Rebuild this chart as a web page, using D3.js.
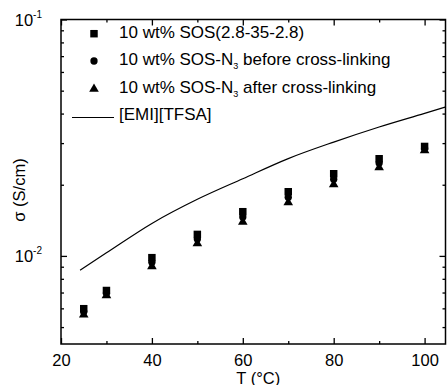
<!DOCTYPE html>
<html>
<head>
<meta charset="utf-8">
<script src="https://cdn.jsdelivr.net/npm/d3@7"></script>
<style>
  body { margin: 0; background: #fff; }
  text { font-family: "Liberation Sans", Arial, sans-serif; fill: #000; }
</style>
</head>
<body>
<div class="chart"></div>
<script>
// data
var temps = [25, 30, 40, 50, 60, 70, 80, 90, 100];
var sosPlain  = [0.00598, 0.00714, 0.00983, 0.01233, 0.01538, 0.01868, 0.02226, 0.02576, 0.02904];
var sosBefore = [0.00581, 0.00697, 0.00940, 0.01180, 0.01460, 0.01770, 0.02110, 0.02470, 0.02850];
var sosAfter  = [0.00564, 0.00681, 0.00903, 0.01129, 0.01390, 0.01683, 0.02006, 0.02367, 0.02793];

var ilTemps = [24.2, 30, 40, 50, 60, 70, 80, 90, 100, 104.5];
var ilSigma = [0.0087, 0.0103, 0.01372, 0.01735, 0.0212, 0.0258, 0.0303, 0.0351, 0.0401, 0.0426];

var xMajor = [20, 40, 60, 80, 100];
var xMinor = [30, 50, 70, 90];
var yMajor = [0.01, 0.1];
var yMajorExp = ["-2", "-1"];
var yMinor = [0.005, 0.006, 0.007, 0.008, 0.009, 0.02, 0.03, 0.04, 0.05, 0.06, 0.07, 0.08, 0.09];

var legendItems = [
  { sym: "square",   pre: "10 wt% SOS(2.8-35-2.8)", sub: "", post: "" },
  { sym: "circle",   pre: "10 wt% SOS-N", sub: "3", post: " before cross-linking" },
  { sym: "triangle", pre: "10 wt% SOS-N", sub: "3", post: " after cross-linking" },
  { sym: "line",     pre: "[EMI][TFSA]", sub: "", post: "" }
];

// Set up chart
var svgWidth = 447, svgHeight = 385;
var plotLeft = 61, plotRight = 445.5, plotTop = 19.5, plotBottom = 344;

var svg = d3.select(".chart").append("svg")
  .attr("width", svgWidth)
  .attr("height", svgHeight);

var x = d3.scaleLinear().domain([20, 104.6]).range([plotLeft, plotRight]);
var y = d3.scaleLog().domain([0.00424, 0.1]).range([plotBottom, plotTop]);

// axes (ticks pointing inward)
var axisStyle = function (g) {
  g.select(".domain").remove();
  g.selectAll("line").attr("stroke", "#000").attr("stroke-width", 1.3);
  g.selectAll("text").attr("font-size", 16.5).attr("font-family", "Liberation Sans, Arial, sans-serif");
};

svg.append("g")
  .attr("transform", `translate(0, ${plotBottom})`)
  .call(d3.axisBottom(x).tickValues(xMajor).tickSize(-6).tickPadding(10).tickSizeOuter(0))
  .call(axisStyle);
svg.append("g")
  .attr("transform", `translate(0, ${plotBottom})`)
  .call(d3.axisBottom(x).tickValues(xMinor).tickSize(-3).tickFormat("").tickSizeOuter(0))
  .call(axisStyle);
svg.append("g")
  .attr("transform", `translate(0, ${plotTop})`)
  .call(d3.axisTop(x).tickValues(xMajor).tickSize(-6).tickFormat("").tickSizeOuter(0))
  .call(axisStyle);
svg.append("g")
  .attr("transform", `translate(0, ${plotTop})`)
  .call(d3.axisTop(x).tickValues(xMinor).tickSize(-3).tickFormat("").tickSizeOuter(0))
  .call(axisStyle);

var yAxisL = svg.append("g")
  .attr("transform", `translate(${plotLeft}, 0)`)
  .call(d3.axisLeft(y).tickValues(yMajor).tickSize(-6).tickFormat("").tickSizeOuter(0))
  .call(axisStyle);
svg.append("g")
  .attr("transform", `translate(${plotLeft}, 0)`)
  .call(d3.axisLeft(y).tickValues(yMinor).tickSize(-3).tickFormat("").tickSizeOuter(0))
  .call(axisStyle);
svg.append("g")
  .attr("transform", `translate(${plotRight}, 0)`)
  .call(d3.axisRight(y).tickValues(yMajor).tickSize(-6).tickFormat("").tickSizeOuter(0))
  .call(axisStyle);
svg.append("g")
  .attr("transform", `translate(${plotRight}, 0)`)
  .call(d3.axisRight(y).tickValues(yMinor).tickSize(-3).tickFormat("").tickSizeOuter(0))
  .call(axisStyle);

// y tick labels as 10^n
yAxisL.selectAll(".tick").each(function (d, i) {
  var t = d3.select(this).append("text")
    .attr("x", -19)
    .attr("y", 6)
    .attr("text-anchor", "end")
    .attr("font-size", 16.5)
    .attr("fill", "#000");
  t.append("tspan").text("10");
  t.append("tspan")
    .attr("font-size", 10)
    .attr("dy", -8)
    .text(yMajorExp[i]);
});

// frame
svg.append("rect")
  .attr("x", plotLeft)
  .attr("y", plotTop)
  .attr("width", plotRight - plotLeft)
  .attr("height", plotBottom - plotTop)
  .attr("fill", "none")
  .attr("stroke", "#000")
  .attr("stroke-width", 1.5);

// axis titles
svg.append("text")
  .attr("x", (plotLeft + plotRight) / 2 + 5)
  .attr("y", 384)
  .attr("text-anchor", "middle")
  .attr("font-size", 16.5)
  .text("T (°C)");

svg.append("text")
  .attr("transform", "translate(25, 190) rotate(-90)")
  .attr("text-anchor", "middle")
  .attr("font-size", 16.5)
  .text("σ (S/cm)");

// ionic liquid line
var line = d3.line()
  .x((d, i) => x(ilTemps[i]))
  .y(d => y(d))
  .curve(d3.curveMonotoneX);

svg.append("path")
  .datum(ilSigma)
  .attr("d", line)
  .attr("fill", "none")
  .attr("stroke", "#000")
  .attr("stroke-width", 1.2);

// markers
var symSquare = d3.symbol().type(d3.symbolSquare).size(56);
var symCircle = d3.symbol().type(d3.symbolCircle).size(42);
var symTri = d3.symbol().type(d3.symbolTriangle).size(40);

function drawSeries(vals, sym) {
  svg.append("g").selectAll("path")
    .data(vals)
    .enter()
    .append("path")
    .attr("transform", (d, i) => `translate(${x(temps[i])}, ${y(d)})`)
    .attr("d", sym)
    .attr("fill", "#000");
}
drawSeries(sosAfter, symTri);
drawSeries(sosBefore, symCircle);
drawSeries(sosPlain, symSquare);

// legend
var legRowY = [37.7, 65, 93, 120];
var legend = svg.append("g");
legendItems.forEach(function (item, i) {
  var cy = legRowY[i] - 4;
  if (item.sym === "line") {
    legend.append("line")
      .attr("x1", 72).attr("x2", 114)
      .attr("y1", cy + 1.5).attr("y2", cy + 1.5)
      .attr("stroke", "#000").attr("stroke-width", 1.2);
  } else {
    var s = item.sym === "square" ? symSquare : item.sym === "circle" ? symCircle : symTri;
    legend.append("path")
      .attr("transform", `translate(94, ${cy})`)
      .attr("d", s)
      .attr("fill", "#000");
  }
  var t = legend.append("text")
    .attr("x", 119)
    .attr("y", legRowY[i])
    .attr("font-size", 17);
  t.append("tspan").text(item.pre);
  if (item.sub) {
    t.append("tspan").attr("font-size", 9).attr("dy", 4).text(item.sub);
    t.append("tspan").attr("dy", -4).text(item.post);
  }
});
</script>
</body>
</html>
